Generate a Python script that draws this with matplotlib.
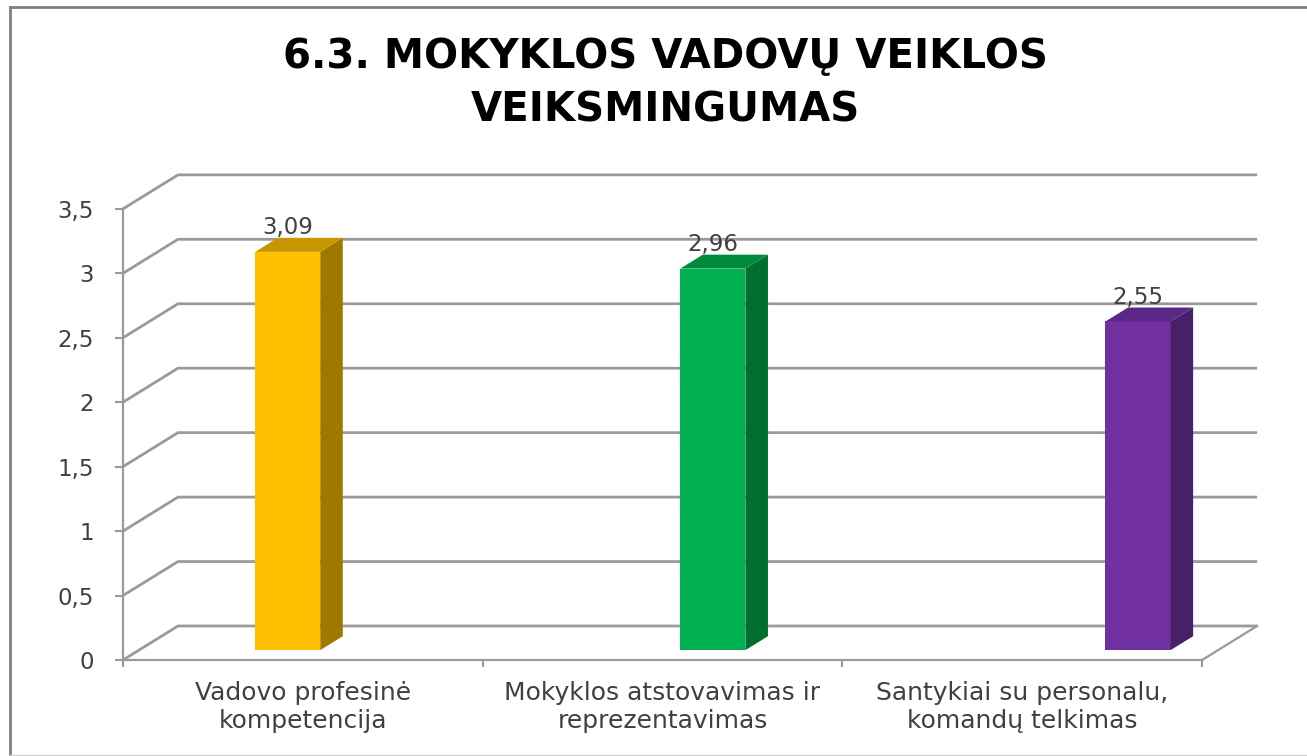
import matplotlib
matplotlib.use("Agg")
import matplotlib.pyplot as plt
from matplotlib.lines import Line2D

# ---- data ----
title = "6.3. MOKYKLOS VADOVŲ VEIKLOS\nVEIKSMINGUMAS"
categories = ["Vadovo profesinė\nkompetencija",
              "Mokyklos atstovavimas ir\nreprezentavimas",
              "Santykiai su personalu,\nkomandų telkimas"]
values = [3.09, 2.96, 2.55]
value_labels = ["3,09", "2,96", "2,55"]
yticks = [0, 0.5, 1, 1.5, 2, 2.5, 3, 3.5]
ytick_labels = ["0", "0,5", "1", "1,5", "2", "2,5", "3", "3,5"]

front_colors = ["#FFC000", "#00B050", "#7030A0"]
side_colors = ["#A07800", "#006E2E", "#47206A"]
top_colors = ["#C89600", "#008A3C", "#5A2886"]

# ---- geometry (oblique pseudo-3D) ----
W, H, DPI = 13.07, 7.56, 100
PX_X = 359.7   # px per category unit
PX_Y = 128.9   # px per value unit
X0_PX, Y0_PX = 123, 660
XMAX, YMAX = 3.25, 3.9
DX, DY = 55 / PX_X, 34 / PX_Y       # full depth of the floor/wall
F0, F1 = 0.29, 0.70                 # bar depth span (fraction of depth)
BAR_START, BAR_STEP, BAR_W = 0.323, 1.182, 0.181
GRID = "#9A9A9A"
TXT = "#404040"

fig = plt.figure(figsize=(W, H), dpi=DPI)
fig.patch.set_facecolor("white")
ax = fig.add_axes([X0_PX / (W * DPI), (H * DPI - Y0_PX) / (H * DPI),
                   XMAX * PX_X / (W * DPI), YMAX * PX_Y / (H * DPI)])
ax.set_xlim(0, XMAX)
ax.set_ylim(0, YMAX)
ax.set_facecolor("none")

# walls / gridlines
for t in yticks:
    ax.plot([0, DX, 3 + DX], [t, t + DY, t + DY], color=GRID, lw=2.0,
            zorder=1, solid_capstyle="butt", clip_on=False)
ax.plot([3, 3 + DX], [0, DY], color=GRID, lw=1.6, zorder=1, clip_on=False)

# bars
n = len(values)
ffx = [BAR_START + i * BAR_STEP + F0 * DX for i in range(n)]
base = F0 * DY
ddx, ddy = (F1 - F0) * DX, (F1 - F0) * DY
ax.bar([x + BAR_W / 2 for x in ffx], values, width=BAR_W, bottom=base,
       color=front_colors, zorder=3, linewidth=0)
for i, v in enumerate(values):
    xl, xr = ffx[i], ffx[i] + BAR_W
    top = base + v
    ax.fill([xr, xr + ddx, xr + ddx, xr], [base, base + ddy, top + ddy, top],
            color=side_colors[i], zorder=3, lw=0)
    ax.fill([xl, xr, xr + ddx, xl + ddx], [top, top, top + ddy, top + ddy],
            color=top_colors[i], zorder=3, lw=0)
    ax.text(xl + BAR_W / 2, top + ddy + 0.03, value_labels[i], ha="center",
            va="baseline", fontsize=16.5, color=TXT, zorder=5,
            family="DejaVu Sans")

# axes styling
for s in ["top", "right"]:
    ax.spines[s].set_visible(False)
ax.spines["left"].set_bounds(0, 3.5)
ax.spines["bottom"].set_bounds(0, 3)
for s in ["left", "bottom"]:
    ax.spines[s].set_color(GRID)
    ax.spines[s].set_linewidth(1.6)
ax.set_yticks(yticks)
ax.set_yticklabels(ytick_labels, fontsize=16.5, color=TXT)
ax.tick_params(axis="y", direction="out", length=6, width=1.5, color=GRID, pad=15)
ax.set_xticks([0, 1, 2, 3])
ax.set_xticklabels([])
ax.tick_params(axis="x", which="major", direction="out", length=5, width=1.5, color=GRID)
ax.set_xticks([0.5, 1.5, 2.5], minor=True)
ax.set_xticklabels(categories, minor=True, fontsize=18, color=TXT, linespacing=1.2)
ax.tick_params(axis="x", which="minor", length=0, pad=15)

# title
fig.text(665 / (W * DPI), 1 - 37 / (H * DPI), title, ha="center", va="top",
         fontsize=29, fontweight="bold", color="black", linespacing=1.45)

# chart border
fw, fh = W * DPI, H * DPI
fig.add_artist(Line2D([10 / fw, 10 / fw], [0, 1 - 7 / fh], color="#808080", lw=2))
fig.add_artist(Line2D([10 / fw, 1], [1 - 7 / fh, 1 - 7 / fh], color="#808080", lw=2))
fig.add_artist(Line2D([10 / fw, 1], [1 / fh, 1 / fh], color="#D0D0D0", lw=1))

fig.savefig("out.png", dpi=DPI)
